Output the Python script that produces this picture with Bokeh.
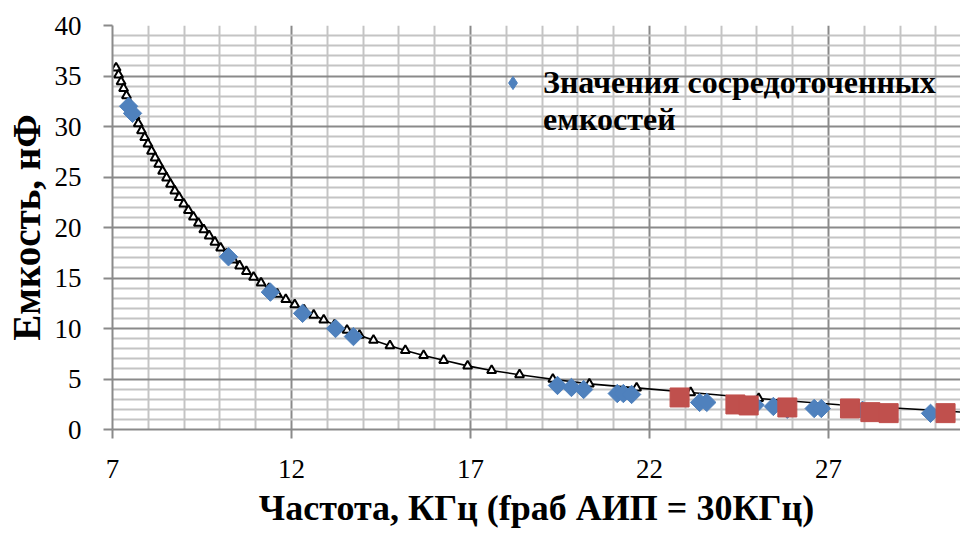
from bokeh.plotting import figure
from bokeh.models import FixedTicker, Legend, LegendItem, Range1d
from bokeh.embed import file_html
from bokeh.resources import INLINE
import numpy as np

# Calculated curve (triangles), frequency in kHz, capacitance in nF
tri_f = [7.10, 7.17, 7.24, 7.31, 7.39, 7.47, 7.55, 7.63, 7.72, 7.81, 7.90, 7.99,
         8.09, 8.19, 8.29, 8.40, 8.51, 8.62, 8.74, 8.86, 8.99, 9.12, 9.26, 9.40,
         9.55, 9.70, 9.86, 10.02, 10.19, 10.37, 10.55, 10.74, 10.94, 11.15, 11.37,
         11.60, 11.84, 12.09, 12.35, 12.62, 12.90, 13.20, 13.55, 13.90, 14.29,
         14.75, 15.18, 15.69, 16.25, 16.92, 17.59, 18.37, 19.30, 20.32, 21.64,
         23.15, 25.05]
tri_c = [35.80, 35.10, 34.43, 33.77, 33.05, 32.34, 31.66, 31.00, 30.28, 29.59,
         28.92, 28.27, 27.57, 26.90, 26.26, 25.58, 24.92, 24.29, 23.63, 22.99,
         22.33, 21.70, 21.05, 20.42, 19.79, 19.18, 18.56, 17.98, 17.38, 16.78,
         16.21, 15.65, 15.08, 14.52, 13.96, 13.41, 12.87, 12.35, 11.83, 11.33,
         10.84, 10.36, 9.83, 9.34, 8.84, 8.30, 7.83, 7.33, 6.85, 6.30, 5.84,
         5.42, 4.98, 4.52, 4.12, 3.66, 3.07]

# Continuation of the trend line past the last triangles
tail_f = [27.30, 29.20, 31.50]
tail_c = [2.45, 2.05, 1.55]

# Lumped capacitance values (blue diamonds)
blue_f = [7.45, 7.56, 10.24, 11.41, 12.31, 13.23, 13.73, 19.43, 19.82, 20.16,
          21.10, 21.27, 21.50, 23.40, 23.60, 24.95, 25.46, 25.85, 26.60, 26.80,
          27.95, 29.85]
blue_c = [32.0, 31.3, 17.1, 13.6, 11.5, 10.0, 9.2, 4.36, 4.16, 3.96,
          3.56, 3.56, 3.47, 2.68, 2.68, 2.42, 2.28, 2.00, 2.08, 2.08,
          1.90, 1.60]

# Second set of values (red squares)
red_f = [22.84, 24.40, 24.77, 25.85, 27.60, 28.17, 28.68, 30.27]
red_c = [3.17, 2.48, 2.38, 2.18, 2.08, 1.72, 1.62, 1.62]

x_ticks = [7, 12, 17, 22, 27]
x_minor = [v for v in range(7, 32) if v not in x_ticks]
y_ticks = [0, 5, 10, 15, 20, 25, 30, 35, 40]
y_minor = [v for v in range(0, 41) if v not in y_ticks]

legend_line1 = "Значения сосредоточенных"
legend_line2 = "емкостей"
x_title = "Частота, КГц (fраб АИП = 30КГц)"
y_title = "Емкость, нФ"

FONT = "'Liberation Serif', serif"

p = figure(width=960, height=533, output_backend="svg", toolbar_location=None,
           x_range=Range1d(7, 7 + 848 / 35.8), y_range=Range1d(0, 40),
           min_border_left=112, min_border_right=0, min_border_top=25,
           min_border_bottom=104)
p.outline_line_color = None
p.background_fill_color = "white"

# grid
for g, ticks, minor in ((p.xgrid, x_ticks, x_minor), (p.ygrid, y_ticks, y_minor)):
    g.ticker = FixedTicker(ticks=ticks, minor_ticks=minor)
    g.grid_line_color = "#8A8A8A"
    g.grid_line_width = 2
    g.minor_grid_line_color = "#C4C4C4"
    g.minor_grid_line_width = 2

p.xaxis.ticker = FixedTicker(ticks=x_ticks, minor_ticks=[])
p.yaxis.ticker = FixedTicker(ticks=y_ticks, minor_ticks=[])
for ax in (p.xaxis, p.yaxis):
    ax.axis_line_color = "#8A8A8A"
    ax.axis_line_width = 2
    ax.major_tick_line_color = "#8A8A8A"
    ax.major_tick_line_width = 2
    ax.major_tick_in = 0
    ax.major_tick_out = 9
    ax.minor_tick_line_color = None
    ax.major_label_text_font = FONT
    ax.major_label_text_font_size = "27px"
    ax.major_label_text_color = "black"
    ax.axis_label_text_font = FONT
    ax.axis_label_text_font_style = "bold"
    ax.axis_label_text_color = "black"

p.xaxis.axis_label = x_title
p.xaxis.axis_label_text_font_size = "36px"
p.xaxis.major_label_standoff = 21
p.xaxis.axis_label_standoff = 7
p.yaxis.axis_label = y_title
p.yaxis.axis_label_text_font_size = "39px"
p.yaxis.major_label_standoff = 22
p.yaxis.axis_label_standoff = 4

line_f = tri_f + tail_f
line_c = tri_c + tail_c
p.line(line_f, line_c, line_color="black", line_width=1.6)
p.scatter(tri_f, tri_c, marker="triangle", size=9, fill_color="white",
          line_color="black", line_width=2)
p.scatter(blue_f, blue_c, marker="square", angle=np.pi / 4, size=13,
          fill_color="#4F81BD", line_color="#4F81BD")
p.scatter(red_f, red_c, marker="square", size=19,
          fill_color="#C0504D", line_color="#C0504D")
# hidden renderers used only for the legend swatches
legend_r = p.scatter(blue_f, blue_c, marker="diamond", size=17,
                     fill_color="#4F81BD", line_color="#4F81BD", visible=False)
blank_r = p.scatter(blue_f, blue_c, marker="diamond", size=17,
                    fill_alpha=0, line_alpha=0, visible=False)

legend = Legend(items=[LegendItem(label=legend_line1, renderers=[legend_r]),
                       LegendItem(label=legend_line2, renderers=[blank_r])],
                location=(384, 291))
legend.background_fill_alpha = 0
legend.border_line_color = None
legend.inactive_fill_alpha = 0
legend.label_text_font = FONT
legend.label_text_font_style = "bold"
legend.label_text_font_size = "32px"
legend.label_text_color = "black"
legend.glyph_width = 33
legend.glyph_height = 33
legend.label_height = 33
legend.label_standoff = 14
legend.spacing = 0
legend.padding = 0
legend.margin = 0
p.add_layout(legend)

open("out.html", "w").write(file_html(p, INLINE))
